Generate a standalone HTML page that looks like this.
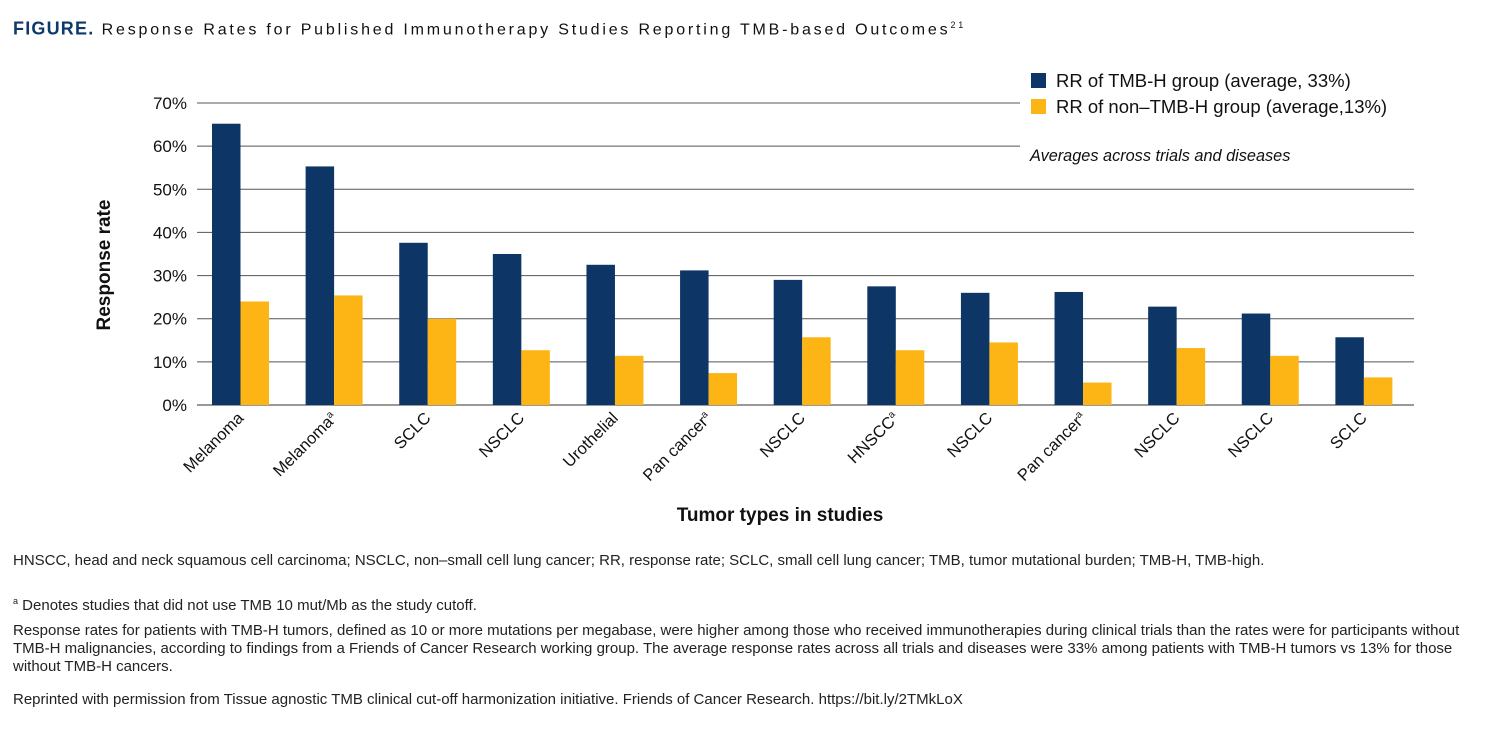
<!DOCTYPE html>
<html><head><meta charset="utf-8"><style>
body{margin:0;width:1512px;height:740px;background:#fff;font-family:"Liberation Sans",sans-serif;overflow:hidden;position:relative}
.t{position:absolute;color:#222;font-size:15px;line-height:18px}
</style></head><body>
<div class="t" style="left:13px;top:16px;font-size:16px;letter-spacing:2.8px;color:#111"><b style="color:#0d3a6b;letter-spacing:1.2px;font-size:18px">FIGURE.</b> Response Rates for Published Immunotherapy Studies Reporting TMB-based Outcomes<sup style="font-size:9px">21</sup></div>
<svg id="chart" width="1512" height="540" style="position:absolute;left:0;top:0" font-family="Liberation Sans, sans-serif"></svg>
<div class="t" style="left:13px;top:552px">HNSCC, head and neck squamous cell carcinoma; NSCLC, non–small cell lung cancer; RR, response rate; SCLC, small cell lung cancer; TMB, tumor mutational burden; TMB-H, TMB-high.</div>
<div class="t" style="left:13px;top:592px"><sup style="font-size:9px">a</sup> Denotes studies that did not use TMB 10 mut/Mb as the study cutoff.</div>
<div class="t" style="left:13px;top:622px;width:1495px;white-space:nowrap">Response rates for patients with TMB-H tumors, defined as 10 or more mutations per megabase, were higher among those who received immunotherapies during clinical trials than the rates were for participants without<br>TMB-H malignancies, according to findings from a Friends of Cancer Research working group. The average response rates across all trials and diseases were 33% among patients with TMB-H tumors vs 13% for those<br>without TMB-H cancers.</div>
<div class="t" style="left:13px;top:691px">Reprinted with permission from Tissue agnostic TMB clinical cut-off harmonization initiative. Friends of Cancer Research. https://bit.ly/2TMkLoX</div>
<script>
const categories=["Melanoma","Melanoma","SCLC","NSCLC","Urothelial","Pan cancer","NSCLC","HNSCC","NSCLC","Pan cancer","NSCLC","NSCLC","SCLC"];
const superscriptA=[false,true,false,false,false,true,false,true,false,true,false,false,false];
const tmbHigh=[65.2,55.3,37.6,35,32.5,31.2,29,27.5,26,26.2,22.8,21.2,15.7];
const tmbLow=[24,25.4,20,12.7,11.4,7.4,15.7,12.7,14.5,5.2,13.2,11.4,6.4];
const yTicks=[0,10,20,30,40,50,60,70];
const NS="http://www.w3.org/2000/svg";
const svg=document.getElementById('chart');
const x0=197,x1=1414,y0=405,yTop=103,yMax=70;
const y=v=>y0-(v/yMax)*(y0-yTop);
const step=(x1-x0)/categories.length;
const bw=28.5;
function mk(t,a,txt){const e=document.createElementNS(NS,t);for(const k in a)e.setAttribute(k,a[k]);if(txt!==undefined)e.textContent=txt;svg.appendChild(e);return e;}
yTicks.forEach(v=>{
 const l=mk('line',{x1:x0,x2:x1,y1:y(v),y2:y(v),stroke:v===0?'#333':'#555','stroke-width':1});
 
 
 const t=mk('text',{x:x0-10,y:y(v)+6,'text-anchor':'end','font-size':17,fill:'#111'},v+'%');
 
 
});
const wb=mk('rect',{x:1020,y:60,width:400,height:113,fill:'#fff'});


categories.forEach((c,i)=>{
 const gx=x0+i*step+15;
 const b1=mk('rect',{x:gx,y:y(tmbHigh[i]),width:bw,height:y0-y(tmbHigh[i]),fill:'#0d3666'});
 
 
 const b2=mk('rect',{x:gx+bw,y:y(tmbLow[i]),width:bw,height:y0-y(tmbLow[i]),fill:'#fdb516'});
 
 
 const cx=gx+bw+4,cy=y0+14;
 const t=mk('text',{x:cx,y:cy,'text-anchor':'end','font-size':16.5,fill:'#111',transform:`rotate(-45 ${cx} ${cy})`},c);
 if(superscriptA[i]){const s=document.createElementNS(NS,'tspan');s.setAttribute('font-size',10);s.setAttribute('dy',-6);s.textContent='a';t.appendChild(s);}
 
 
});
const yl=mk('text',{x:110,y:265,'text-anchor':'middle','font-size':19,'font-weight':'bold',fill:'#111',transform:'rotate(-90 110 265)'},'Response rate');


const xl=mk('text',{x:780,y:521,'text-anchor':'middle','font-size':19,'font-weight':'bold',fill:'#111'},'Tumor types in studies');


const s1=mk('rect',{x:1031,y:73,width:15,height:15,fill:'#0d3666'});


const l1=mk('text',{x:1056,y:87,'font-size':18.5,fill:'#111'},'RR of TMB-H group (average, 33%)');


const s2=mk('rect',{x:1031,y:99,width:15,height:15,fill:'#fdb516'});


const l2=mk('text',{x:1056,y:113,'font-size':18.5,fill:'#111'},'RR of non–TMB-H group (average,13%)');


const av=mk('text',{x:1030,y:161,'font-size':16.3,'font-style':'italic',fill:'#111'},'Averages across trials and diseases');


</script>
</body></html>
